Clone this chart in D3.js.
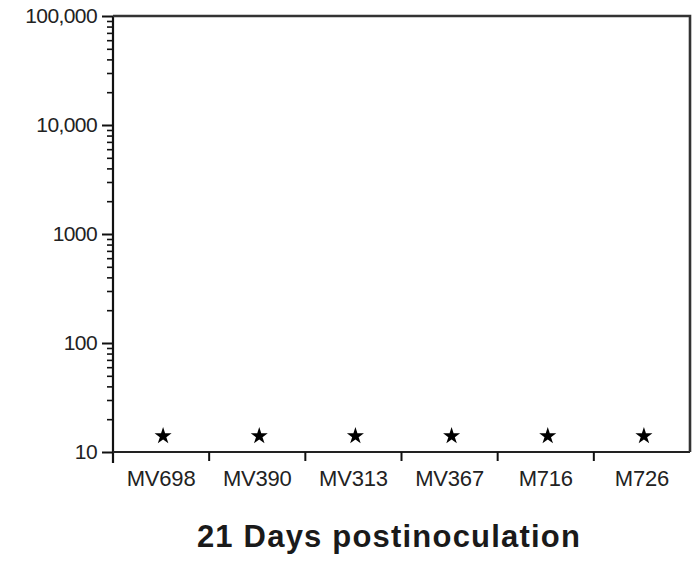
<!DOCTYPE html>
<html><head><meta charset="utf-8">
<script src="https://cdn.jsdelivr.net/npm/d3@7"></script>
<style>body{margin:0;background:#fff;} svg{display:block;}</style>
</head><body>
<svg id="c" width="697" height="565"></svg>
<script>
const categories = ["MV698","MV390","MV313","MV367","M716","M726"];
const values = [14, 14, 14, 14, 14, 14];
const yTickValues = [10, 100, 1000, 10000, 100000];
const yTickLabels = ["10", "100", "1000", "10,000", "100,000"];
const xTitle = "21 Days postinoculation";

const svg = d3.select("#c");
const L = 113, R = 690, T = 16, B = 452;
const y = d3.scaleLog().domain([10, 100000]).range([B, T]);
const x = d3.scaleBand().domain(categories).range([L, R]);

// minor ticks
const minor = [];
for (let d = 10; d < 100000; d *= 10) for (let k = 2; k <= 9; k++) minor.push(d * k);
svg.append("g").attr("transform", `translate(${L},0)`)
  .call(d3.axisLeft(y).tickValues(minor).tickSize(6).tickFormat(""))
  .call(g => g.select(".domain").remove())
  .call(g => g.selectAll("line").attr("stroke", "#111").attr("stroke-width", 1.6));

// major y axis
svg.append("g").attr("transform", `translate(${L},0)`)
  .call(d3.axisLeft(y).tickValues(yTickValues).tickSize(11).tickSizeOuter(0).tickPadding(5)
    .tickFormat((d, i) => yTickLabels[i]))
  .call(g => g.select(".domain").remove())
  .call(g => g.selectAll("line").attr("stroke", "#111").attr("stroke-width", 2))
  .call(g => g.selectAll("text").attr("font-family", "Liberation Sans, Arial, sans-serif")
    .attr("font-size", 21).attr("fill", "#222").attr("letter-spacing", "-0.6px"));

// y axis line extends below
svg.append("line").attr("x1", L).attr("x2", L).attr("y1", T).attr("y2", B + 11)
  .attr("stroke", "#111").attr("stroke-width", 2.2);

// x axis
const dividers = categories.slice(1).map(c => x(c));
svg.append("g").attr("transform", `translate(0,${B})`)
  .call(d3.axisBottom(x).tickSize(0).tickPadding(18))
  .call(g => g.select(".domain").attr("stroke", "#222").attr("stroke-width", 2.2).attr("d", `M${L},0H${R}`))
  .call(g => g.selectAll("text").attr("font-family", "Liberation Sans, Arial, sans-serif")
    .attr("font-size", 22).attr("fill", "#222").attr("letter-spacing", "-0.2px"));
svg.append("g").selectAll("line").data(dividers).join("line")
  .attr("x1", d => d).attr("x2", d => d).attr("y1", B).attr("y2", B + 9)
  .attr("stroke", "#111").attr("stroke-width", 2);

// top and right border
svg.append("path").attr("d", `M${L},${T}H${R}V${B}`).attr("fill", "none")
  .attr("stroke", "#333").attr("stroke-width", 2.6);

// stars
svg.append("g").selectAll("path").data(values).join("path")
  .attr("d", d3.symbol(d3.symbolStar, 90))
  .attr("transform", (d, i) => `translate(${x(categories[i]) + x.bandwidth() / 2 + 2},${y(d)})`)
  .attr("fill", "#000");

// title
svg.append("text").attr("x", 389).attr("y", 547).attr("text-anchor", "middle")
  .attr("font-family", "Liberation Sans, Arial, sans-serif").attr("font-size", 31)
  .attr("font-weight", "bold").attr("fill", "#1a1a1a").attr("letter-spacing", "1.2px")
  .text(xTitle);
</script>
</body></html>
